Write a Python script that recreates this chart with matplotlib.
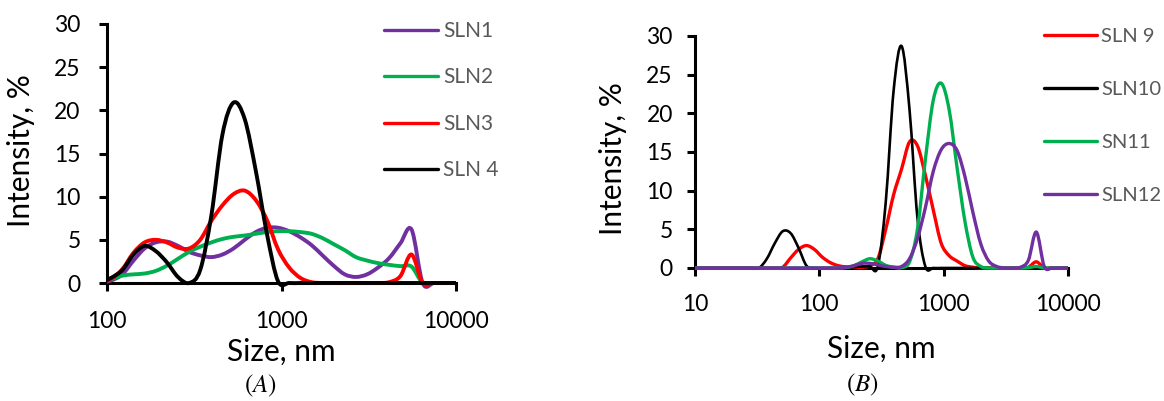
import matplotlib
matplotlib.use("Agg")
import matplotlib.pyplot as plt
import numpy as np
from matplotlib.lines import Line2D
from matplotlib.patches import PathPatch
from matplotlib.path import Path
from matplotlib.transforms import Bbox, TransformedBbox

plt.rcParams["font.family"] = ["Lato", "DejaVu Sans"]
plt.rcParams["mathtext.fontset"] = "stix"

# DLS size bins (nm) and intensity (%)
LEFT_SIZE_NM = [91.28, 105.7, 122.4, 141.8, 164.2, 190.1, 220.2, 255.0, 295.3, 342.0,
                396.1, 458.7, 531.2, 615.1, 712.4, 825.0, 955.4, 1106, 1281, 1484,
                1718, 1990, 2305, 2669, 3091, 3580, 4145, 4801, 5560, 6439,
                7456, 8635, 10000]
SLN1 = [0, 0.3, 1.0, 2.6, 4.0, 4.7, 4.8, 4.3, 3.6, 3.2,
        3.0, 3.3, 4.0, 5.0, 5.9, 6.4, 6.4, 6.0, 5.3, 4.4,
        3.2, 2.0, 1.0, 0.7, 1.0, 1.8, 2.9, 4.6, 6.2, 0,
        0, 0, 0]
SLN2 = [0, 0.45, 0.85, 1.0, 1.1, 1.4, 2.0, 2.8, 3.6, 4.2,
        4.7, 5.1, 5.35, 5.5, 5.7, 5.9, 6.0, 6.0, 5.9, 5.7,
        5.2, 4.5, 3.8, 3.0, 2.6, 2.3, 2.1, 1.95, 1.9, 0,
        0, 0, 0]
SLN3 = [0, 0.5, 1.6, 3.5, 4.7, 5.0, 4.7, 4.1, 4.0, 5.0,
        7.2, 9.0, 10.3, 10.7, 9.6, 7.3, 3.9, 1.8, 0.6, 0.1,
        0, 0, 0, 0, 0, 0, 0.1, 0.8, 3.3, 0,
        0, 0, 0]
SLN4 = [0, 0.6, 1.5, 3.3, 4.3, 3.7, 2.4, 0.7, 0, 1.5,
        7.8, 17.2, 20.9, 19.0, 13.0, 5.7, 0.2, 0, 0, 0,
        0, 0, 0, 0, 0, 0, 0, 0, 0, 0,
        0, 0, 0]

RIGHT_SIZE_NM = [10.10, 11.70, 13.54, 15.69, 18.17, 21.04, 24.36, 28.21, 32.67, 37.84,
                 43.82, 50.75, 58.77, 68.06, 78.82, 91.28, 105.7, 122.4, 141.8, 164.2,
                 190.1, 220.2, 255.0, 295.3, 342.0, 396.1, 458.7, 531.2, 615.1, 712.4,
                 825.0, 955.4, 1106, 1281, 1484, 1718, 1990, 2305, 2669, 3091,
                 3580, 4145, 4801, 5560, 6439, 7456, 8635, 10000]
SLN9 = [0, 0, 0, 0, 0, 0, 0, 0, 0, 0,
        0, 0.1, 1.3, 2.4, 2.9, 2.4, 1.4, 0.7, 0.3, 0.15,
        0.1, 0.1, 0.3, 1.2, 5.0, 9.5, 12.8, 16.3, 15.8, 12.0,
        7.5, 3.2, 1.6, 0.9, 0.3, 0.1, 0, 0, 0, 0,
        0, 0, 0.1, 0.8, 0, 0, 0, 0]
SLN10 = [0, 0, 0, 0, 0, 0, 0, 0, 0, 1.2,
         3.2, 4.75, 4.5, 2.6, 0.3, 0, 0, 0, 0, 0,
         0.1, 0.2, 0.2, 0.2, 8.5, 23.0, 28.7, 20.5, 6.5, 0.2,
         0, 0, 0, 0, 0, 0, 0, 0, 0, 0,
         0, 0, 0, 0, 0, 0, 0, 0]
SN11 = [0, 0, 0, 0, 0, 0, 0, 0, 0, 0,
        0, 0, 0, 0, 0, 0, 0, 0, 0, 0.05,
        0.3, 0.8, 1.2, 0.9, 0.35, 0.1, 0.05, 0.8, 5.0, 14.0,
        21.7, 23.9, 20.5, 13.0, 6.0, 1.4, 0.2, 0, 0, 0,
        0, 0, 0.05, 0.2, 0, 0, 0, 0]
SLN12 = [0, 0, 0, 0, 0, 0, 0, 0, 0, 0,
         0, 0, 0, 0, 0, 0, 0, 0, 0, 0.1,
         0.3, 0.6, 0.6, 0.4, 0.2, 0.1, 0.2, 1.2, 3.8, 7.8,
         12.5, 15.3, 16.1, 15.2, 11.8, 7.2, 3.1, 0.9, 0.2, 0,
         0, 0.1, 1.0, 4.65, 0.2, 0, 0, 0]

LEFT_SERIES = [("SLN1", SLN1, "#7030A0"), ("SLN2", SLN2, "#00B050"),
               ("SLN3", SLN3, "#FF0000"), ("SLN 4", SLN4, "#000000")]
RIGHT_SERIES = [("SLN 9", SLN9, "#FF0000"), ("SLN10", SLN10, "#000000"),
                ("SN11", SN11, "#00B050"), ("SLN12", SLN12, "#7030A0")]

LEFT_XTICKS = [100, 1000, 10000]
RIGHT_XTICKS = [10, 100, 1000, 10000]
YTICKS = [0, 5, 10, 15, 20, 25, 30]

W, H = 1164, 401


def smooth_line(ax, x, y, color, lw):
    # Excel-style smoothed line: Catmull-Rom bezier in log-x / linear-y space
    lx = np.log10(np.asarray(x, dtype=float))
    y = np.asarray(y, dtype=float)
    n = len(lx)
    verts = [(x[0], y[0])]
    codes = [Path.MOVETO]
    for i in range(n - 1):
        a = max(i - 1, 0)
        b = min(i + 2, n - 1)
        c1x = lx[i] + (lx[i + 1] - lx[a]) / 6.0
        c1y = y[i] + (y[i + 1] - y[a]) / 6.0
        c2x = lx[i + 1] - (lx[b] - lx[i]) / 6.0
        c2y = y[i + 1] - (y[b] - y[i]) / 6.0
        verts += [(10 ** c1x, c1y), (10 ** c2x, c2y), (x[i + 1], y[i + 1])]
        codes += [Path.CURVE4] * 3
    patch = PathPatch(Path(verts, codes), fill=False, edgecolor=color, lw=lw,
                      capstyle="round", joinstyle="round", zorder=3)
    ax.add_patch(patch)
    patch.set_clip_box(TransformedBbox(Bbox([[0, -0.03], [1, 1.03]]), ax.transAxes))


def style_axes(ax, xlim, xticks, ypad, xpad):
    ax.set_xscale("log")
    ax.set_xlim(*xlim)
    ax.set_ylim(0, 30)
    ax.set_xticks(xticks, [str(t) for t in xticks])
    ax.xaxis.set_minor_locator(matplotlib.ticker.NullLocator())
    ax.set_yticks(YTICKS, [str(t) for t in YTICKS])
    for s in ["top", "right"]:
        ax.spines[s].set_visible(False)
    for s in ["left", "bottom"]:
        ax.spines[s].set_linewidth(2.2)
        ax.spines[s].set_zorder(2)
    ax.tick_params(direction="out", length=6, width=2.2, labelsize=16.5)
    ax.tick_params(axis="y", pad=ypad)
    ax.tick_params(axis="x", pad=xpad)
    ax.set_facecolor("none")


fig = plt.figure(figsize=(W / 100, H / 100), dpi=100)

# panel A
axA = fig.add_axes([107 / W, 1 - 283 / H, 349 / W, 259 / H])
style_axes(axA, (100, 10000), LEFT_XTICKS, 13, 14)
for name, vals, col in LEFT_SERIES:
    smooth_line(axA, LEFT_SIZE_NM, vals, col, 2.8)
axA.set_ylabel("Intensity, %", fontsize=21.5)
axA.yaxis.set_label_coords(-0.206, 0.51)
axA.set_xlabel("Size, nm", fontsize=21.5)
axA.xaxis.set_label_coords(0.5, -0.21)
hA = [Line2D([], [], color=c, lw=2.4, solid_capstyle="round") for _, _, c in LEFT_SERIES]
axA.legend(hA, [n for n, _, _ in LEFT_SERIES], loc="upper left",
           bbox_to_anchor=(384 / W, 1 - 21 / H), bbox_transform=fig.transFigure,
           frameon=False, fontsize=15, labelcolor="#595959", handlelength=2.6,
           handletextpad=0.25, labelspacing=1.27, borderpad=0, borderaxespad=0)

# panel B
axB = fig.add_axes([695 / W, 1 - 268 / H, 373 / W, 232 / H])
style_axes(axB, (10, 10000), RIGHT_XTICKS, 10, 13)
for name, vals, col in RIGHT_SERIES:
    smooth_line(axB, RIGHT_SIZE_NM, vals, col, 1.9 if col == "#000000" else 2.4)
axB.set_ylabel("Intensity, %", fontsize=21.5)
axB.yaxis.set_label_coords(-0.182, 0.47)
axB.set_xlabel("Size, nm", fontsize=21.5)
axB.xaxis.set_label_coords(0.5, -0.29)
hB = [Line2D([], [], color=c, lw=2.4, solid_capstyle="round") for _, _, c in RIGHT_SERIES]
axB.legend(hB, [n for n, _, _ in RIGHT_SERIES], loc="upper left",
           bbox_to_anchor=(1044 / W, 1 - 28 / H), bbox_transform=fig.transFigure,
           frameon=False, fontsize=14.5, labelcolor="#595959", handlelength=2.65,
           handletextpad=0.2, labelspacing=1.78, borderpad=0, borderaxespad=0)

fig.text(260 / W, 1 - 386 / H, r"$(A)$", fontsize=18, ha="center", va="center")
fig.text(862 / W, 1 - 385 / H, r"$(B)$", fontsize=18, ha="center", va="center")

fig.savefig("out.png", dpi=100)
